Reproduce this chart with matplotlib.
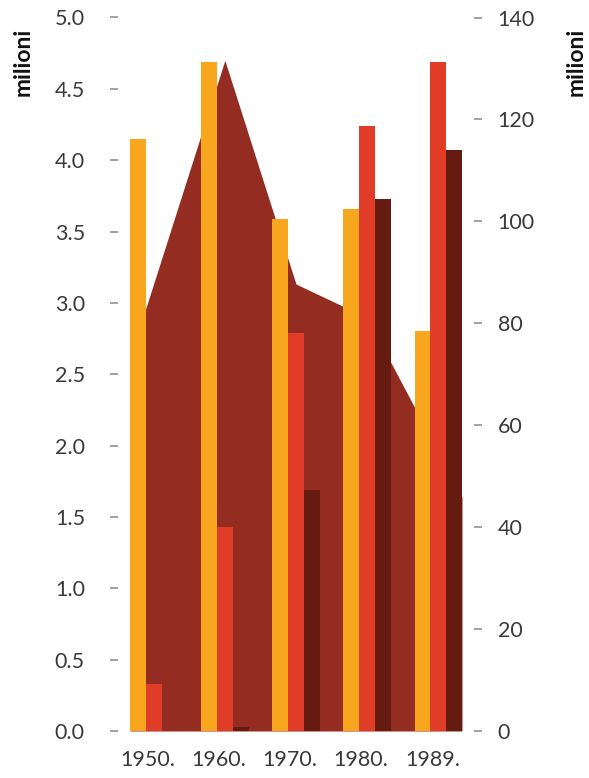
import numpy as np
import matplotlib
matplotlib.use("Agg")
import matplotlib.pyplot as plt
from matplotlib.transforms import ScaledTranslation

years = ["1950.", "1960.", "1970.", "1980.", "1989."]

# bars, left axis (milioni)
orange_vals = [4.15, 4.69, 3.59, 3.66, 2.80]
red_vals = [0.33, 1.43, 2.79, 4.24, 4.69]
dark_vals = [0.0, 0.03, 1.69, 3.73, 4.07]

# area, right axis (milioni)
area_vals = [87.8, 131.6, 87.7, 81.1, 54.7]

left_ticks = [0.0, 0.5, 1.0, 1.5, 2.0, 2.5, 3.0, 3.5, 4.0, 4.5, 5.0]
right_ticks = [0, 20, 40, 60, 80, 100, 120, 140]

c_orange = "#F7A61E"
c_red = "#E03C28"
c_dark = "#651B10"
c_area = "#952C21"
txt = "#3a3a3a"
tick_c = "#9a9a9a"

plt.rcParams["font.family"] = ["Lato", "DejaVu Sans"]

fig = plt.figure(figsize=(5.89, 7.78), dpi=100)
ax = fig.add_axes([130 / 589, 1 - 731 / 778, 332 / 589, 713.5 / 778])
ax2 = ax.twinx()

x = np.arange(len(years))
w = 0.222
lo, hi = -1.5 * w, len(years) - 1 + 1.5 * w

# area extended to the plot edges along the first / last segment
ax_x = np.concatenate([[lo], x, [hi]])
left_edge = area_vals[0] - (area_vals[1] - area_vals[0]) * (x[0] - lo)
right_edge = area_vals[-1] + (area_vals[-1] - area_vals[-2]) * (hi - x[-1])
ax_y = np.concatenate([[left_edge], area_vals, [right_edge]])
ax2.fill_between(ax_x, 0, ax_y, color=c_area, linewidth=0)

ax.bar(x - w, orange_vals, w, color=c_orange, linewidth=0)
ax.bar(x, red_vals, w, color=c_red, linewidth=0)
ax.bar(x + w, dark_vals, w, color=c_dark, linewidth=0)

ax.set_zorder(ax2.get_zorder() + 1)
ax.patch.set_visible(False)

ax.set_xlim(lo, hi)
ax.set_ylim(0, 5.0)
ax2.set_ylim(0, 140)

for a in (ax, ax2):
    for s in a.spines.values():
        s.set_color("none")

ax.spines["left"].set_position(("outward", 12 * 0.72))
ax2.spines["right"].set_position(("outward", 12 * 0.72))

ax.set_yticks(left_ticks)
ax.set_yticklabels([f"{v:.1f}" for v in left_ticks])
ax.tick_params(axis="y", length=5.5, width=1.3, color=tick_c, pad=40,
               labelsize=15.5, labelcolor=txt)
for lab in ax.get_yticklabels():
    lab.set_horizontalalignment("left")

ax2.set_yticks(right_ticks)
ax2.set_yticklabels([str(v) for v in right_ticks])
ax2.tick_params(axis="y", length=5.5, width=1.3, color=tick_c, pad=11.5,
                labelsize=15.5, labelcolor=txt)

ax.set_xticks(x)
ax.set_xticklabels(years)
ax.tick_params(axis="x", length=0, pad=14, labelsize=15.5, labelcolor=txt)
shift = ScaledTranslation(-6 / 100, 0, fig.dpi_scale_trans)
for lab in ax.get_xticklabels():
    lab.set_transform(lab.get_transform() + shift)

fig.text(23 / 589, 1 - 28 / 778, "milioni", rotation=90, ha="center", va="top",
         fontsize=16.5, fontweight="bold", color="#111111")
fig.text(576 / 589, 1 - 28 / 778, "milioni", rotation=90, ha="center", va="top",
         fontsize=16.5, fontweight="bold", color="#111111")

fig.savefig("out.png", dpi=100)
